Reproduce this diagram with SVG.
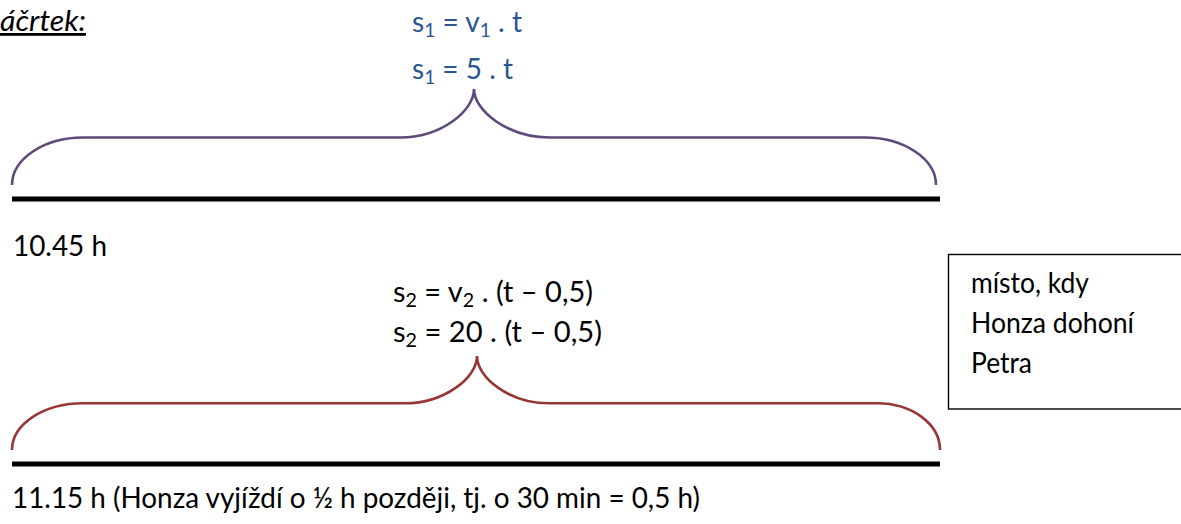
<svg xmlns="http://www.w3.org/2000/svg" width="1181" height="524" viewBox="0 0 1181 524">
<style>
.t{font-family:Lato,"Liberation Sans",sans-serif;font-size:28px;fill:#000}
.b{fill:#2B5690}
.sub{font-size:19px}
.brace{fill:none;stroke-width:2.6;stroke-linecap:butt}
.p{stroke:#5F497A}
.r{stroke:#953735}
.bar{stroke:#000;stroke-width:5}
</style>
<rect width="1181" height="524" fill="#fff"/>
<g id="title">
<text class="t" x="0" y="31" font-size="31" font-style="italic" text-decoration="underline" textLength="86" lengthAdjust="spacingAndGlyphs">áčrtek:</text>
</g>
<g id="formula1">
<text class="t b" x="412" y="32" textLength="110" lengthAdjust="spacingAndGlyphs">s<tspan class="sub" dy="5">1</tspan><tspan dy="-5"> = v</tspan><tspan class="sub" dy="5">1</tspan><tspan dy="-5"> . t</tspan></text>
<text class="t b" x="412" y="79" textLength="101" lengthAdjust="spacingAndGlyphs">s<tspan class="sub" dy="5">1</tspan><tspan dy="-5"> = 5 . t</tspan></text>
</g>
<g id="brace1">
<path class="brace p" d="M12,185 C12,159 44,137.5 83,137.5 L400,137.5 C441,137.5 474,111 474,89 C474,111 508,137.5 550,137.5 L865,137.5 C904,137.5 936,159 936,185"/>
</g>
<g id="track1">
<line class="bar" x1="12" y1="199" x2="940" y2="199"/>
<text class="t" x="13" y="256" textLength="94" lengthAdjust="spacingAndGlyphs">10.45 h</text>
</g>
<g id="formula2">
<text class="t" x="393" y="302" textLength="200" lengthAdjust="spacingAndGlyphs">s<tspan class="sub" dy="5">2</tspan><tspan dy="-5"> = v</tspan><tspan class="sub" dy="5">2</tspan><tspan dy="-5"> . (t – 0,5)</tspan></text>
<text class="t" x="393" y="342" textLength="209" lengthAdjust="spacingAndGlyphs">s<tspan class="sub" dy="5">2</tspan><tspan dy="-5"> = 20 . (t – 0,5)</tspan></text>
</g>
<g id="brace2">
<path class="brace r" d="M12,450 C12,424 44,403.3 83,403.3 L405,403.3 C444,403.3 477,378 477,356 C477,378 510,403.3 549,403.3 L877,403.3 C912,403.3 940,424 940,450"/>
</g>
<g id="track2">
<line class="bar" x1="12" y1="464" x2="940" y2="464"/>
<text class="t" x="12" y="508" textLength="688" lengthAdjust="spacingAndGlyphs">11.15 h (Honza vyjíždí o ½ h později, tj. o 30 min = 0,5 h)</text>
</g>
<g id="note">
<rect x="948.5" y="254.5" width="260" height="154.5" fill="#fff" stroke="#000" stroke-width="1.4"/>
<text class="t" x="971" y="293" textLength="118" lengthAdjust="spacingAndGlyphs">místo, kdy</text>
<text class="t" x="971" y="333" textLength="163" lengthAdjust="spacingAndGlyphs">Honza dohoní</text>
<text class="t" x="971" y="373" textLength="61" lengthAdjust="spacingAndGlyphs">Petra</text>
</g>
</svg>
